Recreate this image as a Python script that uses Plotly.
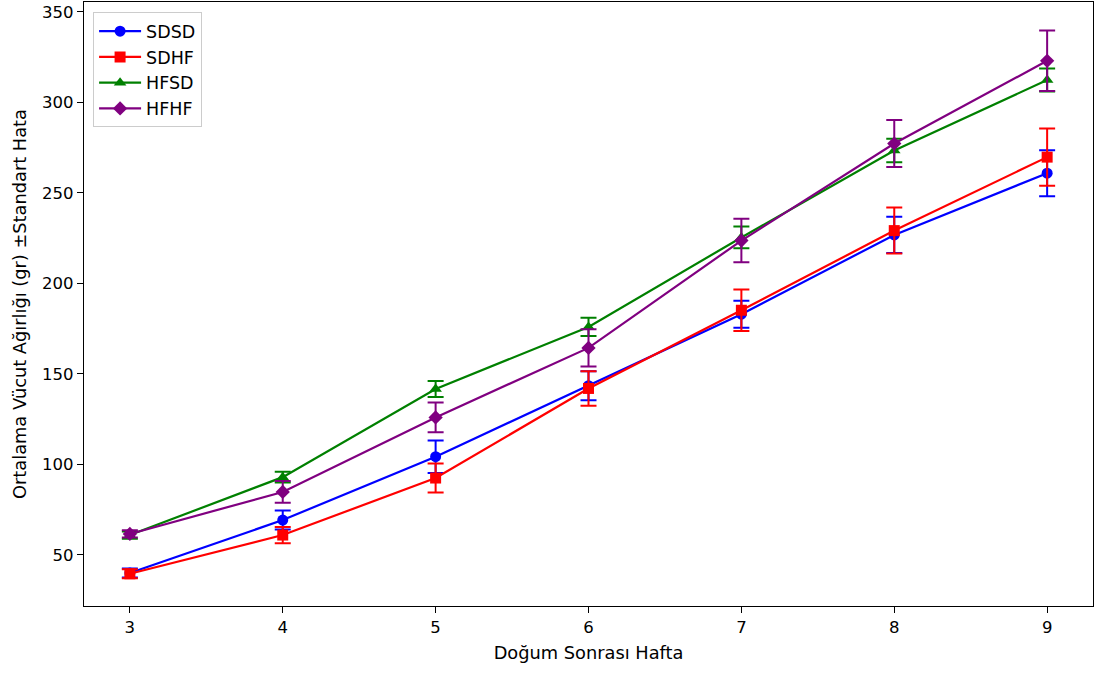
import plotly.graph_objects as go

weeks = [3, 4, 5, 6, 7, 8, 9]

sdsd = [40.0, 69.3, 104.3, 143.5, 183.0, 226.8, 260.9]
sdsd_err = [2.5, 5.3, 9.0, 8.0, 7.5, 10.0, 12.7]

sdhf = [39.6, 61.0, 92.5, 142.0, 185.2, 229.2, 269.8]
sdhf_err = [2.5, 4.5, 8.0, 9.5, 11.5, 12.7, 15.8]

hfsd = [61.0, 93.0, 141.7, 176.0, 225.4, 273.5, 312.4]
hfsd_err = [2.0, 3.0, 4.4, 5.0, 6.0, 6.5, 6.4]

hfhf = [61.6, 84.8, 126.0, 164.4, 223.7, 277.3, 323.0]
hfhf_err = [2.0, 6.0, 8.2, 10.3, 12.0, 13.0, 16.7]

series = [
    ("SDSD", sdsd, sdsd_err, "blue", "circle"),
    ("SDHF", sdhf, sdhf_err, "red", "square"),
    ("HFSD", hfsd, hfsd_err, "green", "triangle-up"),
    ("HFHF", hfhf, hfhf_err, "purple", "diamond"),
]

fig = go.Figure()
for name, vals, err, col, sym in series:
    fig.add_trace(go.Scatter(
        x=weeks, y=vals, name=name, mode="lines+markers",
        line=dict(color=col, width=2.2),
        marker=dict(color=col, symbol=sym, size=11),
        error_y=dict(type="data", array=err, visible=True, color=col,
                     thickness=2, width=8),
    ))

fig.update_layout(
    width=1097, height=673,
    margin=dict(l=84, r=4, t=2, b=67),
    paper_bgcolor="white", plot_bgcolor="white",
    font=dict(family="DejaVu Sans", size=16, color="black"),
    showlegend=True,
    legend=dict(x=0.009, y=0.983, xanchor="left", yanchor="top",
                bgcolor="white", bordercolor="#cccccc", borderwidth=1,
                font=dict(size=17.5), itemwidth=42, tracegroupgap=2),
    xaxis=dict(range=[2.7, 9.3], tickvals=weeks, ticks="outside", ticklen=6,
               tickcolor="black", showline=True, linecolor="black", linewidth=1.3,
               mirror=True, showgrid=False, zeroline=False,
               title=dict(text="Doğum Sonrası Hafta", font=dict(size=17.8), standoff=10),
               tickfont=dict(size=16.5)),
    yaxis=dict(range=[21.8, 355.5], tickvals=[50, 100, 150, 200, 250, 300, 350],
               ticks="outside", ticklen=6, tickcolor="black", showline=True,
               linecolor="black", linewidth=1.3, mirror=True, showgrid=False,
               zeroline=False,
               title=dict(text="Ortalama Vücut Ağırlığı (gr) ±Standart Hata",
                          font=dict(size=17.8), standoff=10),
               tickfont=dict(size=16.5)),
)

fig.write_html("out.html")
